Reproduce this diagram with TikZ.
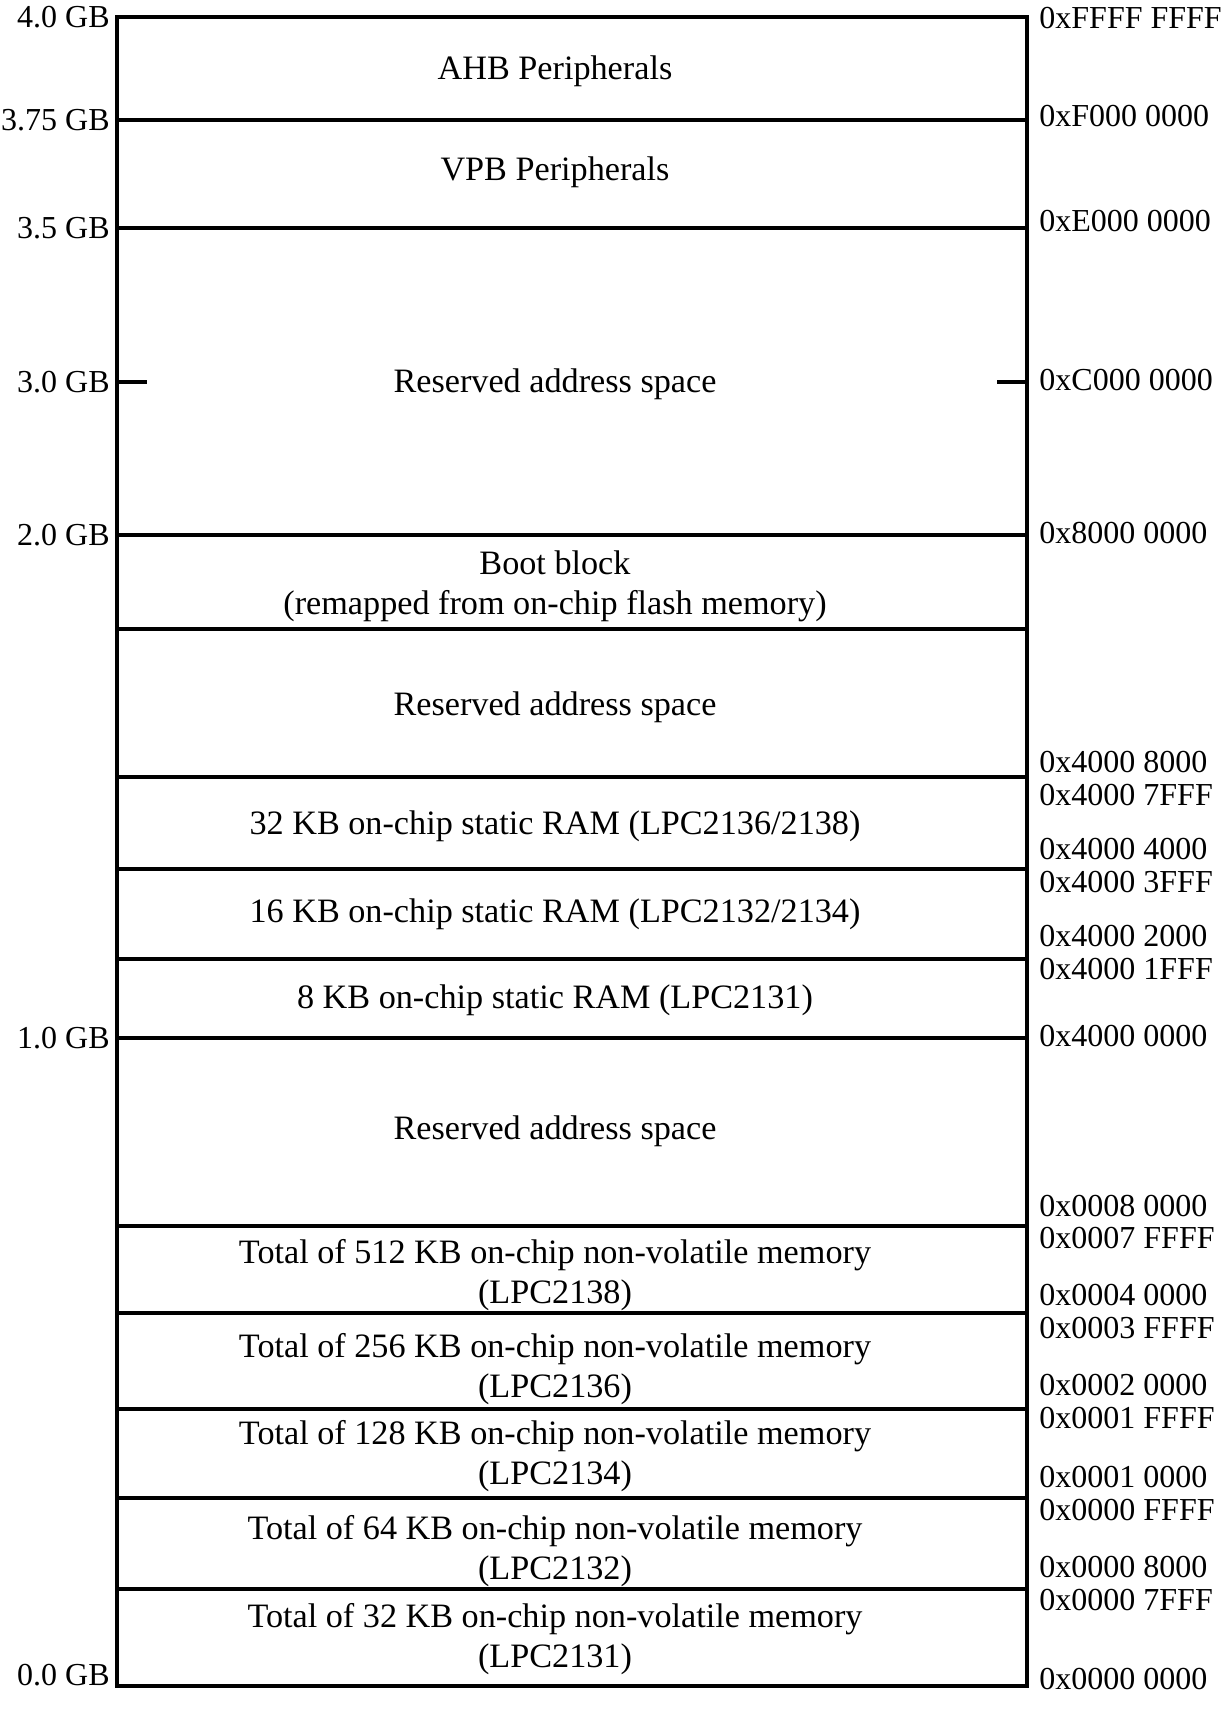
\documentclass[tikz,border=0pt]{standalone}
\usepackage{fontspec}
\setmainfont{Liberation Serif}

\tikzset{
    wall/.style={line width=2pt},
    txt/.style={inner sep=0pt,font=\fontsize{16}{20}\selectfont},
    region/.style={txt,align=center,font=\fontsize{17.1}{20}\selectfont},
    gbsize/.style={txt,anchor=east},
    addr/.style={txt,anchor=west},
}

\begin{document}
\begin{tikzpicture}[x=0.5pt,y=-0.5pt]
    \def\xl{117} %left edge of the map
    \def\xr{1027} %right edge of the map
    \def\xm{555} %centre of the region texts

\useasboundingbox (0,0) rectangle (1223,1711);

% outer frame
\draw[wall] (\xl,17) rectangle (\xr,1686);

% region borders
\foreach \y in {120,228,535,629,777,869,959,1038,1226,1313,1409,1498,1589} {
    \draw[wall] (\xl,\y) -- (\xr,\y);
}

% short marks at 3.0 GB
\draw[wall] (\xl,382) -- ++(30,0);
\draw[wall] (\xr,382) -- ++(-30,0);

% sizes on the left
\foreach \y/\s [count=\i] in {17/4.0,120/3.75,228/3.5,382/3.0,535/2.0,1038/1.0,1675/0.0} {
    \node[gbsize] (gb\i) at (110,\y) {\s\ GB};
}

% addresses on the right
\foreach \y/\a [count=\i] in {
    18/0xFFFF FFFF, 116/0xF000 0000, 221/0xE000 0000, 380/0xC000 0000,
    533/0x8000 0000, 762/0x4000 8000, 795/0x4000 7FFF, 849/0x4000 4000,
    882/0x4000 3FFF, 936/0x4000 2000, 969/0x4000 1FFF, 1036/0x4000 0000,
    1206/0x0008 0000, 1238/0x0007 FFFF, 1295/0x0004 0000, 1328/0x0003 FFFF,
    1385/0x0002 0000, 1418/0x0001 FFFF, 1477/0x0001 0000, 1510/0x0000 FFFF,
    1567/0x0000 8000, 1600/0x0000 7FFF, 1679/0x0000 0000} {
    \node[addr] (ad\i) at (1039,\y) {\a};
}

% region texts
\node[region] (ahb) at (\xm,71) {AHB Peripherals};
\node[region] (vpb) at (\xm,172) {VPB Peripherals};
\node[region] (res1) at (\xm,384) {Reserved address space};
\node[region] (boot) at (\xm,586) {Boot block\\(remapped from on-chip flash memory)};
\node[region] (res2) at (\xm,707) {Reserved address space};
\node[region] (ram32) at (\xm,826) {32 KB on-chip static RAM (LPC2136/2138)};
\node[region] (ram16) at (\xm,914) {16 KB on-chip static RAM (LPC2132/2134)};
\node[region] (ram8) at (\xm,1000) {8 KB on-chip static RAM (LPC2131)};
\node[region] (res3) at (\xm,1131) {Reserved address space};
\node[region] (nv512) at (\xm,1275) {Total of 512 KB on-chip non-volatile memory\\(LPC2138)};
\node[region] (nv256) at (\xm,1369) {Total of 256 KB on-chip non-volatile memory\\(LPC2136)};
\node[region] (nv128) at (\xm,1456) {Total of 128 KB on-chip non-volatile memory\\(LPC2134)};
\node[region] (nv64) at (\xm,1551) {Total of 64 KB on-chip non-volatile memory\\(LPC2132)};
\node[region] (nv32) at (\xm,1639) {Total of 32 KB on-chip non-volatile memory\\(LPC2131)};

\end{tikzpicture}
\end{document}
